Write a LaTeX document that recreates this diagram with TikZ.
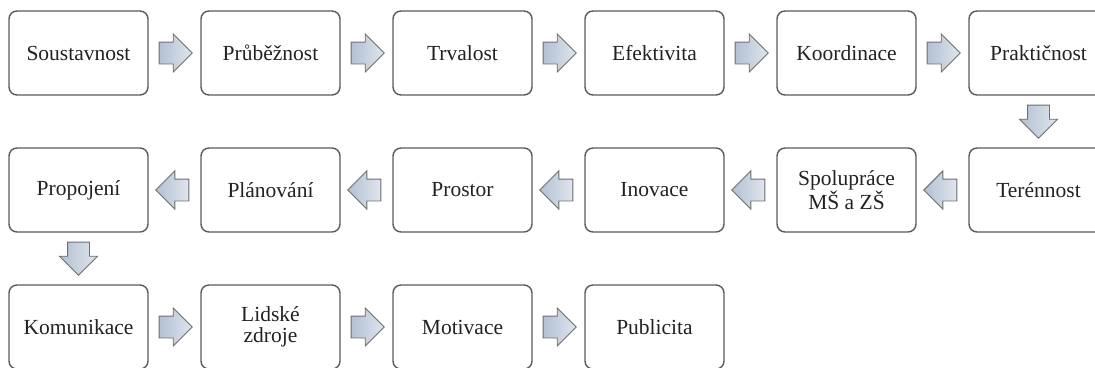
\documentclass[tikz,border=0pt]{standalone}
\usepackage{fontspec}
\setmainfont{Liberation Serif}
\usetikzlibrary{shapes.arrows,calc}
\definecolor{boxline}{HTML}{5A5A5A}
\definecolor{arrline}{HTML}{6E6E6E}
\definecolor{arrlight}{HTML}{DEE5EF}
\definecolor{arrdark}{HTML}{B3C0D2}
\definecolor{txt}{HTML}{222222}
\tikzset{
  stepbox/.style={draw=boxline, line width=1.4pt, rounded corners=8pt, fill=white,
    minimum width=139pt, minimum height=84pt, align=center, inner sep=0pt,
    font=\fontsize{21.5}{20.5}\selectfont, text=txt},
  blockarrow/.style={single arrow, draw=arrline, line width=0.9pt,
    minimum height=33pt, text height=10.5pt, text depth=10.5pt,
    single arrow head extend=8pt,
    single arrow head indent=0pt, inner sep=0pt, anchor=tail,
    left color=arrdark, right color=arrlight},
  rarrow/.style={blockarrow},
  larrow/.style={blockarrow, rotate=180},
  darrow/.style={blockarrow, rotate=-90},
}
\begin{document}
\begin{tikzpicture}[x=1pt,y=-1pt]
\path[use as bounding box] (0,0) rectangle (1095,367);
\clip (0,0) rectangle (1095,367);
% row 1
\node[stepbox] (b1) at (78.5,53) {Soustavnost};
\node[stepbox] (b2) at (270.5,53) {Průběžnost};
\node[stepbox] (b3) at (462.5,53) {Trvalost};
\node[stepbox] (b4) at (654.5,53) {Efektivita};
\node[stepbox] (b5) at (846.5,53) {Koordinace};
\node[stepbox] (b6) at (1038.5,53) {Praktičnost};
% row 2
\node[stepbox] (c6) at (1038.5,190) {Terénnost};
\node[stepbox] (c5) at (846.5,190) {Spolupráce\\MŠ a ZŠ};
\node[stepbox] (c4) at (654.5,190) {Inovace};
\node[stepbox] (c3) at (462.5,190) {Prostor};
\node[stepbox] (c2) at (270.5,190) {Plánování};
\node[stepbox] (c1) at (78.5,190) {Propojení};
% row 3
\node[stepbox] (d1) at (78.5,327) {Komunikace};
\node[stepbox] (d2) at (270.5,327) {Lidské\\zdroje};
\node[stepbox] (d3) at (462.5,327) {Motivace};
\node[stepbox] (d4) at (654.5,327) {Publicita};
% arrows row 1
\node[rarrow] (a12) at ($(b1.east)!10pt!(b2.west)$) {};
\node[rarrow] (a23) at ($(b2.east)!10pt!(b3.west)$) {};
\node[rarrow] (a34) at ($(b3.east)!10pt!(b4.west)$) {};
\node[rarrow] (a45) at ($(b4.east)!10pt!(b5.west)$) {};
\node[rarrow] (a56) at ($(b5.east)!10pt!(b6.west)$) {};
\node[darrow] (a6c) at ($(b6.south)!9pt!(c6.north)$) {};
% arrows row 2
\node[larrow] (ac65) at ($(c6.west)!11pt!(c5.east)$) {};
\node[larrow] (ac54) at ($(c5.west)!11pt!(c4.east)$) {};
\node[larrow] (ac43) at ($(c4.west)!11pt!(c3.east)$) {};
\node[larrow] (ac32) at ($(c3.west)!11pt!(c2.east)$) {};
\node[larrow] (ac21) at ($(c2.west)!11pt!(c1.east)$) {};
\node[darrow] (acd) at ($(c1.south)!9pt!(d1.north)$) {};
% arrows row 3
\node[rarrow] (ad12) at ($(d1.east)!10pt!(d2.west)$) {};
\node[rarrow] (ad23) at ($(d2.east)!10pt!(d3.west)$) {};
\node[rarrow] (ad34) at ($(d3.east)!10pt!(d4.west)$) {};
\end{tikzpicture}
\end{document}
